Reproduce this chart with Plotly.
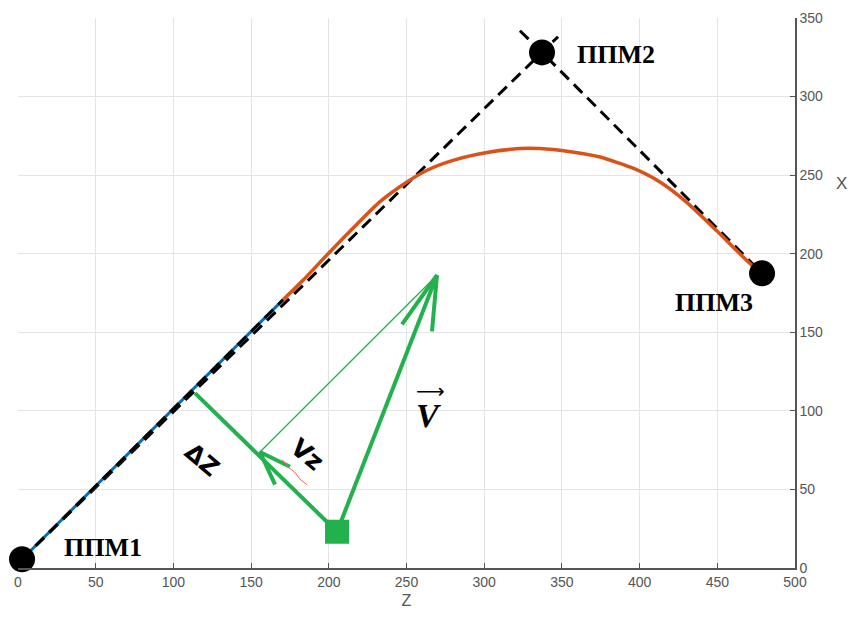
import plotly.graph_objects as go

# ---- data (z, x) ----
waypoint_names = ["ППМ1", "ППМ2", "ППМ3"]
waypoint_z = [2.6, 337.2, 478.8]
waypoint_x = [5.6, 328.1, 187.5]

leg1_z = [2.6, 337.2, 347.5]
leg1_x = [5.6, 328.1, 338.1]
leg2_z = [323.0, 337.2, 478.8]
leg2_x = [341.9, 328.1, 187.5]

blue_z = [2.6, 170.5]
blue_x = [5.6, 170.6]

orange_z = [170.5, 183.4, 200.8, 218.1, 233.0, 250.3, 263.2, 279.9, 301.8, 323.0,
            335.9, 353.3, 374.5, 395.8, 413.1, 430.5, 449.8, 471.0, 478.8]
orange_x = [170.6, 183.1, 201.3, 218.8, 233.1, 245.6, 253.1, 259.4, 264.4, 266.9,
            266.9, 265.2, 261.5, 254.4, 245.6, 232.5, 214.4, 193.8, 187.5]

aircraft_z = [205.3]
aircraft_x = [23.1]

v_tip_z, v_tip_x = 269.6, 186.3
v_barbs_z = [247.1, 269.6, 266.4]
v_barbs_x = [155.0, 186.3, 150.6]

dz_foot_z, dz_foot_x = 113.9, 111.3
vz_tip_z, vz_tip_x = 155.7, 73.8
vz_barbs_z = [165.4, 155.7, 175.0]
vz_barbs_x = [53.1, 73.8, 64.4]

squiggle_z = [170.0, 174.0, 178.0, 182.0, 186.0]
squiggle_x = [69.0, 64.0, 61.0, 56.0, 53.0]

x_ticks = list(range(0, 501, 50))
y_ticks = list(range(0, 351, 50))

GREEN = "#22B14C"
fig = go.Figure()

# dashed route legs
for zz, xx in [(leg1_z, leg1_x), (leg2_z, leg2_x)]:
    fig.add_trace(go.Scatter(x=zz, y=xx, mode="lines",
                             line=dict(color="black", width=3, dash="12px,7px"),
                             hoverinfo="skip"))
# blue straight part
fig.add_trace(go.Scatter(x=blue_z, y=blue_x, mode="lines",
                         line=dict(color="#0072BD", width=3)))
# orange curved part
fig.add_trace(go.Scatter(x=orange_z, y=orange_x, mode="lines",
                         line=dict(color="#D95319", width=3.5, shape="spline", smoothing=0.6)))
# redraw dashes over the blue part
fig.add_trace(go.Scatter(x=blue_z, y=blue_x, mode="lines",
                         line=dict(color="black", width=3, dash="12px,7px")))

# green vectors
fig.add_trace(go.Scatter(x=[vz_tip_z, v_tip_z], y=[vz_tip_x, v_tip_x], mode="lines",
                         line=dict(color=GREEN, width=1.3)))
fig.add_trace(go.Scatter(x=[aircraft_z[0], v_tip_z], y=[aircraft_x[0], v_tip_x], mode="lines",
                         line=dict(color=GREEN, width=4)))
fig.add_trace(go.Scatter(x=v_barbs_z, y=v_barbs_x, mode="lines",
                         line=dict(color=GREEN, width=4)))
fig.add_trace(go.Scatter(x=[dz_foot_z, aircraft_z[0]], y=[dz_foot_x, aircraft_x[0]], mode="lines",
                         line=dict(color=GREEN, width=4)))
fig.add_trace(go.Scatter(x=vz_barbs_z, y=vz_barbs_x, mode="lines",
                         line=dict(color=GREEN, width=4)))
fig.add_trace(go.Scatter(x=squiggle_z, y=squiggle_x, mode="lines",
                         line=dict(color="#ff6060", width=1)))
fig.add_trace(go.Scatter(x=aircraft_z, y=aircraft_x, mode="markers",
                         marker=dict(symbol="square", size=22, color=GREEN,
                                     line=dict(color=GREEN, width=2))))

# waypoints
fig.add_trace(go.Scatter(x=waypoint_z, y=waypoint_x, mode="markers", cliponaxis=False,
                         marker=dict(size=26, color="black")))

serif = "Liberation Serif"
ann = []
label_pos = [(54.7, 13.0), (384.8, 326.9), (447.9, 169.0)]
for name, (az, ax_) in zip(waypoint_names, label_pos):
    ann.append(dict(x=az, y=ax_, text="<b>%s</b>" % name, showarrow=False,
                    font=dict(family=serif, size=26, color="black")))
ann.append(dict(x=118.4, y=68.8, text="<b>ΔZ</b>", showarrow=False, textangle=40,
                font=dict(family="DejaVu Sans", size=24, color="black")))
ann.append(dict(x=186.0, y=72.0, text="<b>Vz</b>", showarrow=False, textangle=40,
                font=dict(family="DejaVu Sans", size=25, color="black")))
ann.append(dict(x=264.0, y=97.0, text="<b><i>V</i></b>", showarrow=False,
                font=dict(family=serif, size=34, color="black")))
ann.append(dict(x=265.5, y=112.5, text="⟶", showarrow=False,
                font=dict(family="DejaVu Sans", size=20, color="black")))
ann.append(dict(x=1.07, y=0.72, xref="paper", yref="paper", text="X", showarrow=False,
                font=dict(family="Liberation Sans", size=17, color="#555")))

fig.update_layout(
    width=849, height=617, autosize=False,
    margin=dict(l=18, r=54, t=10, b=47, pad=0),
    paper_bgcolor="white", plot_bgcolor="white",
    showlegend=False, annotations=ann,
    xaxis=dict(range=[0, 500], tickvals=x_ticks, showgrid=True, gridcolor="#e4e4e4",
               gridwidth=1, zeroline=False, showline=True, linecolor="#555", linewidth=1.5,
               ticks="inside", ticklen=5, tickcolor="#555",
               tickfont=dict(family="Liberation Sans", size=14, color="#555"),
               title=dict(text="Z", standoff=6,
                          font=dict(family="Liberation Sans", size=16, color="#555"))),
    yaxis=dict(range=[0, 350], tickvals=y_ticks, side="right", showgrid=True,
               gridcolor="#e4e4e4", gridwidth=1, zeroline=False, showline=True,
               linecolor="#555", linewidth=1.5, ticks="inside", ticklen=5, tickcolor="#555",
               tickfont=dict(family="Liberation Sans", size=14, color="#555")),
)

fig.write_html("out.html")
